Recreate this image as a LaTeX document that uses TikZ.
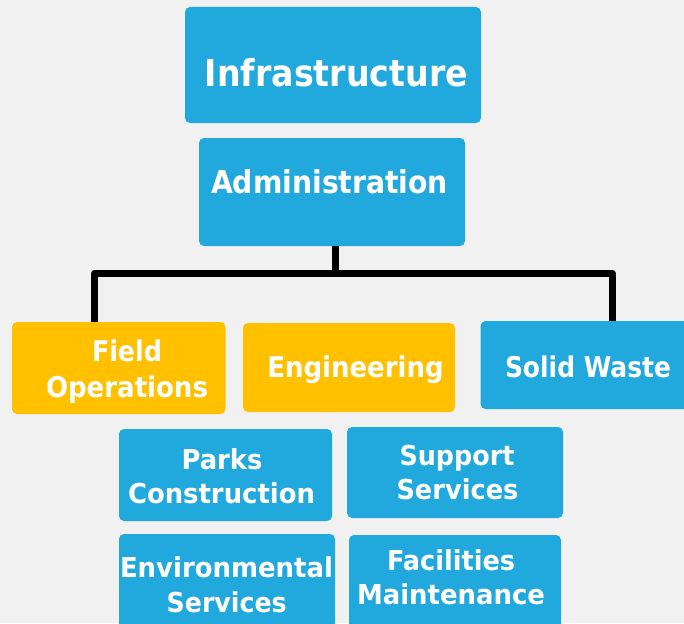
\documentclass[tikz,border=0pt]{standalone}
\usepackage{fontspec}
\usepackage{graphicx}
\setmainfont{DejaVu Sans}[BoldFont={DejaVu Sans Bold}]
\definecolor{bg}{HTML}{F1F1F1}
\definecolor{boxblue}{HTML}{21A9DE}
\definecolor{boxyellow}{HTML}{FFC000}
\newcommand{\fitw}[3]{{\fontsize{#2}{#2}\selectfont\bfseries\resizebox{#1pt}{\height}{#3}}}
\tikzset{
  bluebox/.style={fill=boxblue, draw=none, rounded corners=5pt},
  yellowbox/.style={fill=boxyellow, draw=none, rounded corners=5pt},
  lbl/.style={text=white, inner sep=0pt, anchor=base},
  conn/.style={line width=7pt, black, line join=round}
}
\begin{document}
\begin{tikzpicture}[x=1pt,y=-1pt]
\useasboundingbox (0,0) rectangle (684,623);
\clip (0,0) rectangle (684,623);
\fill[bg] (0,0) rectangle (684,623);
% boxes
\path[bluebox] (185,7) rectangle (481,123) node[midway] (infra) {};
\path[bluebox] (199,138) rectangle (465,246) node[midway] (admin) {};
\path[yellowbox] (12,322) rectangle (225.5,414) node[midway] (field) {};
\path[yellowbox] (243,323) rectangle (455,412) node[midway] (eng) {};
\path[bluebox] (480.5,321) rectangle (700,409) node[midway] (solid) {};
\path[bluebox] (119,429) rectangle (332,521) node[midway] (parks) {};
\path[bluebox] (347,427) rectangle (563,518) node[midway] (support) {};
\path[bluebox] (119,534) rectangle (335,640) node[midway] (env) {};
\path[bluebox] (349,535) rectangle (561,640) node[midway] (fac) {};
% connector coordinates
\coordinate (adminB) at (335,246);
\coordinate (barM) at (335,273);
\coordinate (barL) at (94.5,273);
\coordinate (barR) at (612,273);
\coordinate (fieldT) at (94.5,322);
\coordinate (solidT) at (612,321);
\draw[conn] (adminB) -- (barM);
\draw[conn] (fieldT) -- (barL) -- (barR) -- (solidT);
% labels
\node[lbl] (tInfra) at (336.5,87) {\fitw{263}{37}{Infrastructure}};
\node[lbl] (tAdmin) at (329.5,193) {\fitw{237}{31.5}{Administration}};
\node[lbl] (tField1) at (127,361) {\fitw{70}{28.5}{Field}};
\node[lbl] (tField2) at (127,397) {\fitw{162}{28.5}{Operations}};
\node[lbl] (tEng) at (355.5,377) {\fitw{176.5}{28.5}{Engineering}};
\node[lbl] (tSolid) at (588,377) {\fitw{166}{28.5}{Solid Waste}};
\node[lbl] (tParks1) at (222,469) {\fitw{81}{27.4}{Parks}};
\node[lbl] (tParks2) at (221.5,503) {\fitw{187}{27.4}{Construction}};
\node[lbl] (tSup1) at (457,465) {\fitw{115}{27.4}{Support}};
\node[lbl] (tSup2) at (457.5,499) {\fitw{122}{27.4}{Services}};
\node[lbl] (tEnv1) at (226.5,577) {\fitw{213}{27.4}{Environmental}};
\node[lbl] (tEnv2) at (226.7,612) {\fitw{120}{27.4}{Services}};
\node[lbl] (tFac1) at (451,570) {\fitw{128}{27.4}{Facilities}};
\node[lbl] (tFac2) at (451,604) {\fitw{188}{27.4}{Maintenance}};
\end{tikzpicture}
\end{document}
